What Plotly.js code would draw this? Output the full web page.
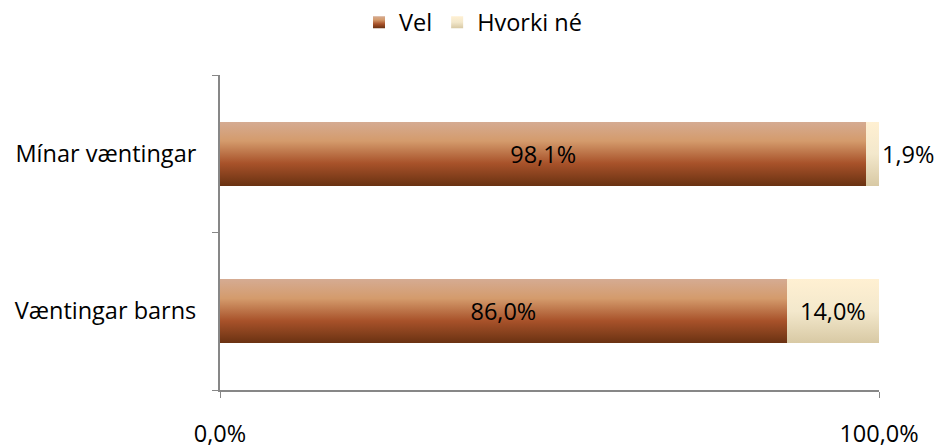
<!DOCTYPE html>
<html>
<head>
<meta charset="utf-8">
<script src="https://cdn.plot.ly/plotly-3.0.1.min.js"></script>
<style>html,body{margin:0;padding:0;background:#fff;}#chart{width:946px;height:448px;}</style>
</head>
<body>
<div id="chart"></div>
<script>
const categories = ['Væntingar barns', 'Mínar væntingar'];
const velValues = [0.860, 0.981];
const hvorkiValues = [0.140, 0.019];
const seriesNames = ['Vel', 'Hvorki né'];
const xTickVals = [0, 1];

const FONT = '"Open Sans", Carlito, Calibri, sans-serif';
const FS = 23.5;

const traces = [
  {
    type: 'bar', orientation: 'h', name: seriesNames[0],
    y: categories, x: velValues,
    marker: {color: '#b4663a', line: {width: 0}},
    texttemplate: '%{x:.1%}', textposition: 'inside', insidetextanchor: 'middle',
    textfont: {family: FONT, size: FS, color: '#000'},
    constraintext: 'none', hoverinfo: 'skip', cliponaxis: false
  },
  {
    type: 'bar', orientation: 'h', name: seriesNames[1],
    y: categories, x: hvorkiValues,
    marker: {color: '#f3e6c6', line: {width: 0}},
    texttemplate: '%{x:.1%}', textposition: ['inside', 'outside'], insidetextanchor: 'middle',
    textfont: {family: FONT, size: FS, color: '#000'},
    outsidetextfont: {family: FONT, size: FS, color: '#000'},
    constraintext: 'none', hoverinfo: 'skip', cliponaxis: false
  }
];

const layout = {
  width: 946, height: 448,
  margin: {l: 220, r: 67, t: 75, b: 58},
  barmode: 'stack', bargap: 0.595,
  separators: ',.',
  paper_bgcolor: '#fff', plot_bgcolor: '#fff',
  font: {family: FONT, size: FS, color: '#000'},
  showlegend: true,
  legend: {orientation: 'h', x: 0.5, xanchor: 'center', xref: 'container',
           y: 0.95, yanchor: 'middle', yref: 'container', itemwidth: 30,
           font: {family: FONT, size: FS, color: '#000'}, traceorder: 'normal'},
  xaxis: {range: [0, 1], tickvals: xTickVals, tickformat: '.1%',
          showgrid: true, gridcolor: '#878787', gridwidth: 2,
          showline: true, linecolor: '#878787', linewidth: 2,
          ticks: 'outside', ticklen: 6, tickcolor: '#878787', tickwidth: 1,
          ticklabelstandoff: 16, zeroline: false, fixedrange: true,
          tickfont: {family: FONT, size: FS, color: '#000'}},
  yaxis: {type: 'category', categoryorder: 'array', categoryarray: categories,
          showline: true, linecolor: '#878787', linewidth: 2,
          ticks: 'outside', ticklen: 6, tickcolor: '#878787', tickwidth: 1,
          tickson: 'boundaries', showgrid: false, zeroline: false, fixedrange: true,
          ticklabelstandoff: 17,
          tickfont: {family: FONT, size: FS, color: '#000'}}
};

Plotly.newPlot('chart', traces, layout, {displayModeBar: false, staticPlot: true}).then(function (gd) {
  const NS = 'http://www.w3.org/2000/svg';
  const svg = gd.querySelector('svg.main-svg');
  const defs = document.createElementNS(NS, 'defs');
  function grad(id, stops) {
    const g = document.createElementNS(NS, 'linearGradient');
    g.setAttribute('id', id);
    g.setAttribute('x1', '0'); g.setAttribute('y1', '0');
    g.setAttribute('x2', '0'); g.setAttribute('y2', '1');
    stops.forEach(function (s) {
      const st = document.createElementNS(NS, 'stop');
      st.setAttribute('offset', s[0]);
      st.setAttribute('stop-color', s[1]);
      g.appendChild(st);
    });
    defs.appendChild(g);
  }
  grad('gVel', [['0', '#d5ab92'], ['0.3', '#d49b6c'], ['0.65', '#a8522a'], ['1', '#6a3212']]);
  grad('gHv', [['0', '#fff0d2'], ['0.5', '#f3e8cc'], ['1', '#d8c9a4']]);
  svg.insertBefore(defs, svg.firstChild);
  const ids = ['gVel', 'gHv'];
  gd.querySelectorAll('.barlayer .trace.bars').forEach(function (t, i) {
    t.querySelectorAll('.point path').forEach(function (p) { p.style.fill = 'url(#' + ids[i] + ')'; });
  });
  gd.querySelectorAll('.legend .traces').forEach(function (t, i) {
    t.querySelectorAll('.legendpoints path').forEach(function (p) { p.style.fill = 'url(#' + ids[i] + ')'; });
  });
});
</script>
</body>
</html>
